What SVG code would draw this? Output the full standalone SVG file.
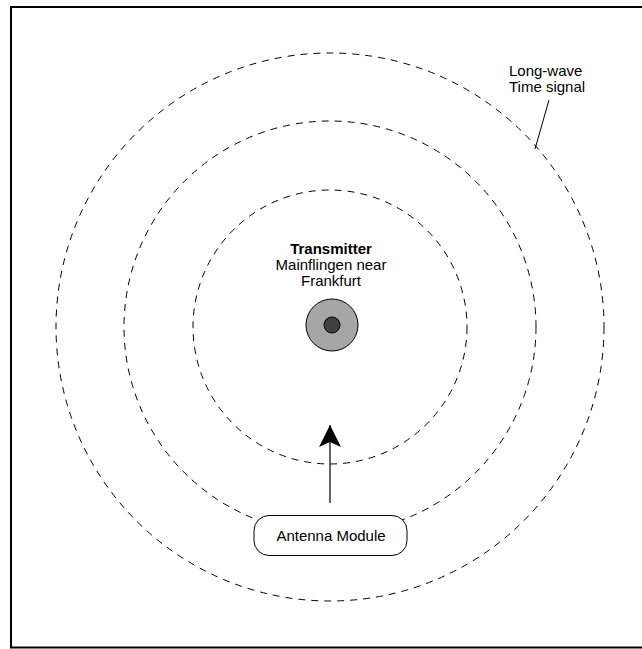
<svg xmlns="http://www.w3.org/2000/svg" width="642" height="649" viewBox="0 0 642 649">
  <style>
    .wave { fill: none; stroke: #000; stroke-width: 1; stroke-dasharray: 7 6; }
    .txt { font-family: "Liberation Sans", Arial, sans-serif; font-size: 15px; fill: #000; }
    .b { font-weight: bold; }
  </style>
  <defs>
    <marker id="arrow" viewBox="0 0 24 24" refX="22" refY="12" markerWidth="24" markerHeight="24" markerUnits="userSpaceOnUse" orient="auto">
      <path d="M22,12 L0,1 L5,12 L0,23 Z" fill="#000"/>
    </marker>
  </defs>
  <rect width="642" height="649" fill="#fff"/>
  <rect x="11" y="7" width="640" height="640.5" fill="none" stroke="#000" stroke-width="2"/>

  <g id="waves">
    <circle class="wave" cx="330" cy="327" r="137"/>
    <circle class="wave" cx="330" cy="327" r="206"/>
    <circle class="wave" cx="330" cy="327" r="274"/>
  </g>

  <g id="transmitter">
    <text class="txt b" x="331" y="254" text-anchor="middle">Transmitter</text>
    <text class="txt" x="331" y="270" text-anchor="middle">Mainflingen near</text>
    <text class="txt" x="331" y="286" text-anchor="middle">Frankfurt</text>
    <circle cx="332" cy="325" r="26" fill="#a6a6a6" stroke="#000" stroke-width="1"/>
    <circle cx="332" cy="325" r="8" fill="#404040" stroke="#000" stroke-width="1"/>
  </g>

  <g id="label-signal">
    <text class="txt" x="509" y="76">Long-wave</text>
    <text class="txt" x="509" y="92">Time signal</text>
  </g>

  <g id="antenna">
    <rect x="254" y="515.5" width="153" height="40" rx="15" ry="15" fill="#fff" stroke="#000" stroke-width="1"/>
    <text class="txt" x="331" y="541" text-anchor="middle">Antenna Module</text>
  </g>

  <g id="connectors">
    <line x1="330" y1="503" x2="330" y2="425" stroke="#333" stroke-width="1.5" marker-end="url(#arrow)"/>
    <line x1="549" y1="100" x2="535" y2="149" stroke="#000" stroke-width="1"/>
  </g>
</svg>
